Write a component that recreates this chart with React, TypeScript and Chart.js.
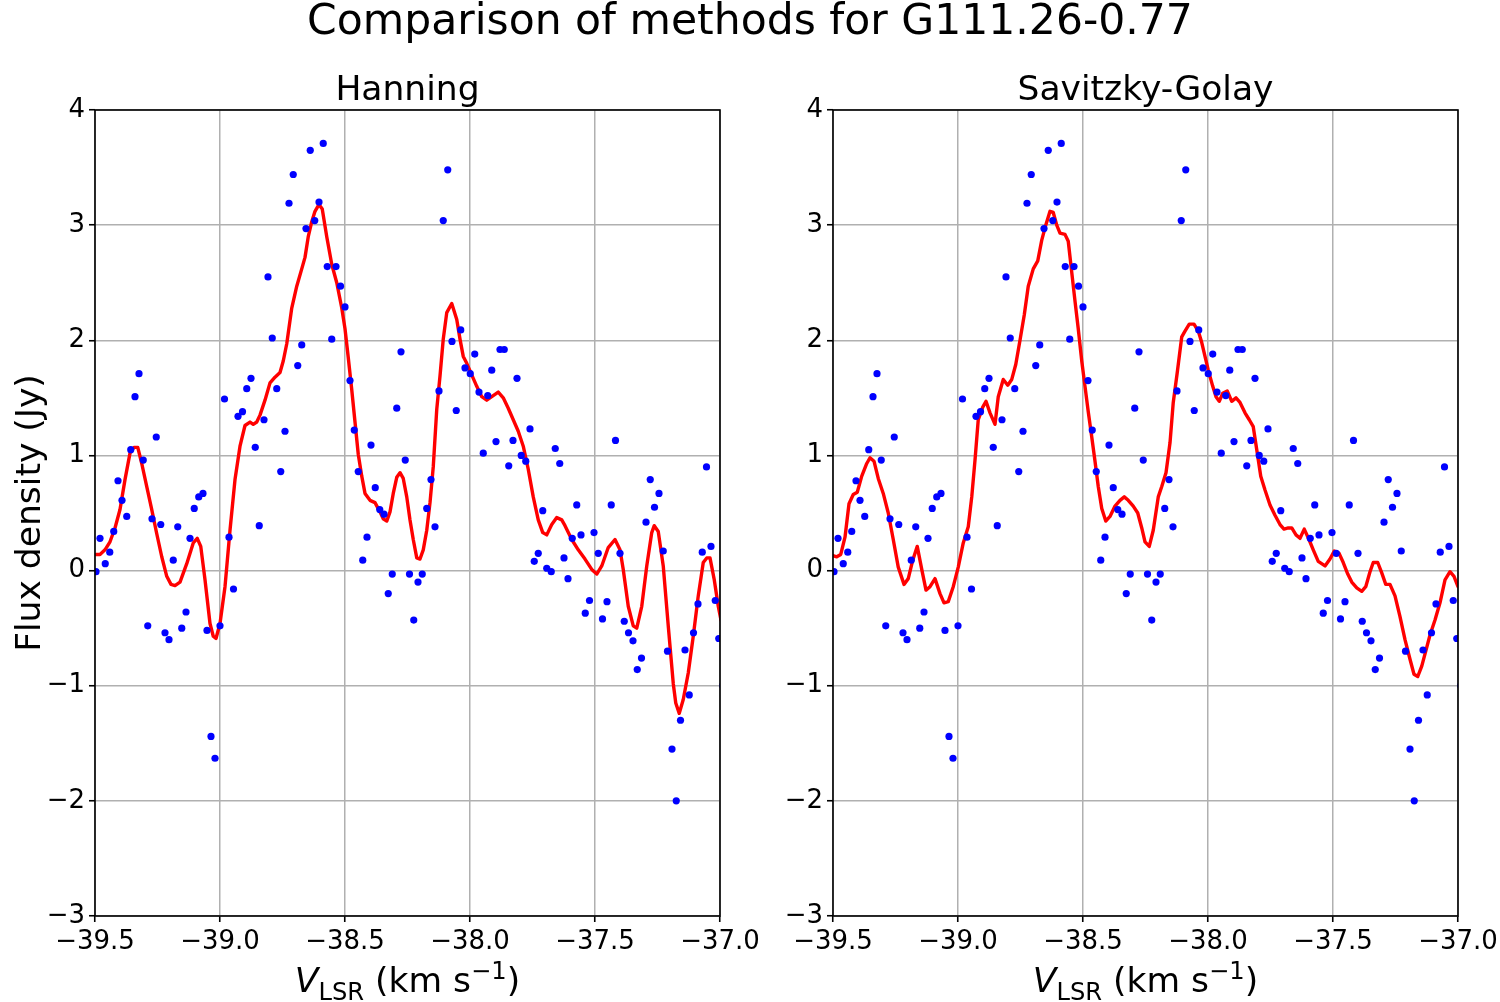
import React, { useEffect, useRef } from "react";
import { Chart, registerables } from "chart.js";

Chart.register(...registerables);

const FONT = '"DejaVu Sans", "Liberation Sans", sans-serif';

// ---- Data ----
const velocity = [
  -39.496, -39.48, -39.459, -39.441, -39.425, -39.408, -39.392, -39.373, -39.357, -39.34,
  -39.324, -39.307, -39.289, -39.272, -39.255, -39.237, -39.22, -39.204, -39.187, -39.169,
  -39.153, -39.136, -39.12, -39.103, -39.085, -39.068, -39.052, -39.036, -39.02, -39.0,
  -38.982, -38.964, -38.946, -38.928, -38.91, -38.893, -38.876, -38.859, -38.843, -38.824,
  -38.808, -38.791, -38.773, -38.757, -38.74, -38.724, -38.707, -38.689, -38.673, -38.656,
  -38.639, -38.621, -38.604, -38.587, -38.571, -38.553, -38.536, -38.518, -38.5, -38.48,
  -38.463, -38.447, -38.429, -38.412, -38.396, -38.379, -38.361, -38.344, -38.327, -38.311,
  -38.293, -38.276, -38.259, -38.242, -38.225, -38.208, -38.191, -38.173, -38.156, -38.14,
  -38.124, -38.107, -38.089, -38.072, -38.055, -38.037, -38.02, -37.999, -37.981, -37.964,
  -37.947, -37.929, -37.913, -37.896, -37.88, -37.863, -37.845, -37.828, -37.812, -37.795,
  -37.777, -37.76, -37.743, -37.727, -37.709, -37.693, -37.675, -37.659, -37.641, -37.624,
  -37.608, -37.591, -37.573, -37.556, -37.539, -37.522, -37.504, -37.487, -37.47, -37.452,
  -37.435, -37.418, -37.4, -37.383, -37.366, -37.348, -37.331, -37.314, -37.296, -37.279,
  -37.262, -37.244, -37.227, -37.21, -37.192, -37.175, -37.158, -37.14, -37.123, -37.106,
  -37.088, -37.071, -37.054, -37.036, -37.019, -37.005, -36.989,
];

const flux = [
  -0.01, 0.28, 0.06, 0.16, 0.34, 0.78, 0.61, 0.47, 1.05, 1.51,
  1.71, 0.96, -0.48, 0.45, 1.16, 0.4, -0.54, -0.6, 0.09, 0.38,
  -0.5, -0.36, 0.28, 0.54, 0.64, 0.67, -0.52, -1.44, -1.63, -0.48,
  1.49, 0.29, -0.16, 1.34, 1.38, 1.58, 1.67, 1.07, 0.39, 1.31,
  2.55, 2.02, 1.58, 0.86, 1.21, 3.19, 3.44, 1.78, 1.96, 2.97,
  3.65, 3.04, 3.2, 3.71, 2.64, 2.01, 2.64, 2.47, 2.29, 1.65,
  1.22, 0.86, 0.09, 0.29, 1.09, 0.72, 0.53, 0.49, -0.2, -0.03,
  1.41, 1.9, 0.96, -0.03, -0.43, -0.1, -0.03, 0.54, 0.79, 0.38,
  1.56, 3.04, 3.48, 1.99, 1.39, 2.09, 1.76, 1.71, 1.88, 1.55,
  1.02, 1.52, 1.74, 1.12, 1.92, 1.92, 0.91, 1.13, 1.67, 1.0,
  0.95, 1.23, 0.08, 0.15, 0.52, 0.02, -0.01, 1.06, 0.93, 0.11,
  -0.07, 0.28, 0.57, 0.31, -0.37, -0.26, 0.33, 0.15, -0.42, -0.27,
  0.57, 1.13, 0.15, -0.44, -0.54, -0.61, -0.86, -0.76, 0.42, 0.79,
  0.55, 0.67, 0.17, -0.7, -1.55, -2.0, -1.3, -0.69, -1.08, -0.54,
  -0.29, 0.16, 0.9, 0.21, -0.26, -0.59, -1.0,
];

const hanningVelocity = [
  -39.496, -39.48, -39.46, -39.44, -39.42, -39.4, -39.38, -39.36, -39.344, -39.329,
  -39.313, -39.293, -39.273, -39.253, -39.233, -39.213, -39.196, -39.18, -39.16, -39.133,
  -39.107, -39.091, -39.077, -39.06, -39.04, -39.027, -39.016, -39.0, -38.98, -38.96,
  -38.94, -38.92, -38.9, -38.88, -38.867, -38.853, -38.84, -38.82, -38.8, -38.78,
  -38.76, -38.747, -38.733, -38.713, -38.693, -38.673, -38.66, -38.647, -38.633, -38.62,
  -38.604, -38.591, -38.573, -38.553, -38.533, -38.513, -38.5, -38.487, -38.473, -38.46,
  -38.447, -38.433, -38.42, -38.4, -38.38, -38.36, -38.347, -38.333, -38.32, -38.307,
  -38.293, -38.28, -38.267, -38.253, -38.24, -38.227, -38.213, -38.2, -38.187, -38.173,
  -38.16, -38.147, -38.133, -38.12, -38.107, -38.093, -38.073, -38.053, -38.04, -38.027,
  -38.013, -37.993, -37.973, -37.953, -37.933, -37.913, -37.887, -37.867, -37.847, -37.827,
  -37.807, -37.787, -37.767, -37.747, -37.727, -37.709, -37.693, -37.673, -37.653, -37.633,
  -37.62, -37.593, -37.567, -37.54, -37.513, -37.493, -37.473, -37.447, -37.42, -37.4,
  -37.387, -37.367, -37.347, -37.333, -37.313, -37.293, -37.273, -37.263, -37.247, -37.227,
  -37.207, -37.187, -37.177, -37.163, -37.147, -37.127, -37.107, -37.087, -37.067, -37.053,
  -37.04, -37.023, -37.007, -36.996,
];

const hanningFlux = [
  0.14, 0.14, 0.18, 0.25, 0.37, 0.53, 0.79, 1.02, 1.07, 1.07,
  0.93, 0.73, 0.53, 0.32, 0.12, -0.05, -0.12, -0.13, -0.1, 0.06,
  0.24, 0.28, 0.21, -0.08, -0.46, -0.57, -0.59, -0.46, -0.14, 0.35,
  0.79, 1.08, 1.26, 1.29, 1.27, 1.29, 1.35, 1.48, 1.63, 1.68,
  1.72, 1.82, 1.97, 2.28, 2.47, 2.62, 2.72, 2.9, 3.03, 3.12,
  3.18, 3.14, 2.9, 2.66, 2.5, 2.28, 2.1, 1.85, 1.57, 1.29,
  1.01, 0.82, 0.67, 0.61, 0.59, 0.51, 0.45, 0.43, 0.51, 0.67,
  0.81, 0.85, 0.8, 0.64, 0.44, 0.27, 0.11, 0.1, 0.18, 0.35,
  0.59, 0.9, 1.4, 1.69, 2.01, 2.24, 2.32, 2.18, 2.01, 1.86,
  1.8, 1.7, 1.6, 1.51, 1.48, 1.51, 1.55, 1.5, 1.41, 1.31,
  1.21, 1.08, 0.88, 0.64, 0.44, 0.33, 0.31, 0.4, 0.46, 0.44,
  0.39, 0.27, 0.18, 0.1, 0.01, -0.03, 0.04, 0.2, 0.27, 0.18,
  0.01, -0.31, -0.48, -0.5, -0.31, 0.04, 0.33, 0.39, 0.34, 0.04,
  -0.48, -0.98, -1.15, -1.24, -1.12, -0.89, -0.57, -0.22, 0.07, 0.11,
  0.11, -0.08, -0.31, -0.43,
];

const sgVelocity = [
  -39.5, -39.485, -39.469, -39.452, -39.436, -39.419, -39.403, -39.385, -39.365, -39.352,
  -39.336, -39.319, -39.299, -39.279, -39.259, -39.239, -39.216, -39.199, -39.181, -39.163,
  -39.145, -39.128, -39.112, -39.092, -39.072, -39.056, -39.039, -39.019, -38.999, -38.979,
  -38.959, -38.945, -38.932, -38.919, -38.901, -38.888, -38.872, -38.852, -38.839, -38.819,
  -38.801, -38.785, -38.769, -38.752, -38.735, -38.719, -38.699, -38.681, -38.665, -38.649,
  -38.632, -38.619, -38.605, -38.592, -38.572, -38.559, -38.545, -38.532, -38.519, -38.505,
  -38.492, -38.479, -38.465, -38.452, -38.439, -38.425, -38.409, -38.392, -38.372, -38.352,
  -38.335, -38.319, -38.299, -38.281, -38.265, -38.252, -38.235, -38.219, -38.199, -38.185,
  -38.168, -38.152, -38.139, -38.123, -38.105, -38.092, -38.075, -38.056, -38.039, -38.025,
  -38.012, -37.999, -37.981, -37.968, -37.955, -37.941, -37.923, -37.905, -37.888, -37.872,
  -37.852, -37.835, -37.819, -37.805, -37.789, -37.772, -37.752, -37.732, -37.712, -37.696,
  -37.679, -37.665, -37.648, -37.632, -37.615, -37.596, -37.579, -37.559, -37.532, -37.512,
  -37.495, -37.476, -37.459, -37.441, -37.425, -37.405, -37.385, -37.369, -37.352, -37.339,
  -37.321, -37.305, -37.289, -37.272, -37.252, -37.232, -37.212, -37.192, -37.176, -37.161,
  -37.145, -37.129, -37.112, -37.092, -37.072, -37.052, -37.032, -37.016, -37.0,
];

const sgFlux = [
  0.13, 0.12, 0.14, 0.29, 0.58, 0.66, 0.68, 0.82, 0.93, 0.98,
  0.95, 0.8, 0.67, 0.5, 0.27, 0.03, -0.12, -0.07, 0.09, 0.21,
  0.01, -0.17, -0.14, -0.07, -0.2, -0.28, -0.27, -0.14, 0.03, 0.24,
  0.38, 0.64, 0.96, 1.31, 1.42, 1.47, 1.37, 1.27, 1.51, 1.66,
  1.61, 1.66, 1.79, 2.0, 2.22, 2.47, 2.62, 2.69, 2.87, 3.0,
  3.12, 3.11, 3.0, 2.93, 2.92, 2.86, 2.59, 2.34, 2.1, 1.82,
  1.6, 1.38, 1.16, 0.95, 0.73, 0.54, 0.43, 0.47, 0.56, 0.61,
  0.64, 0.61, 0.56, 0.5, 0.37, 0.25, 0.21, 0.35, 0.64, 0.73,
  0.85, 1.11, 1.46, 1.72, 2.03, 2.08, 2.14, 2.14, 2.08, 1.98,
  1.86, 1.74, 1.6, 1.51, 1.47, 1.54, 1.56, 1.47, 1.5, 1.46,
  1.37, 1.31, 1.25, 1.05, 0.82, 0.7, 0.57, 0.48, 0.4, 0.36,
  0.37, 0.37, 0.31, 0.28, 0.36, 0.27, 0.18, 0.08, 0.04, 0.1,
  0.17, 0.15, 0.07, -0.03, -0.1, -0.15, -0.18, -0.14, -0.01, 0.07,
  0.07, -0.02, -0.12, -0.12, -0.22, -0.4, -0.6, -0.77, -0.9, -0.92,
  -0.83, -0.7, -0.56, -0.43, -0.28, -0.08, -0.01, -0.05, -0.14,
];

const xTickValues = [-39.5, -39.0, -38.5, -38.0, -37.5, -37.0];
const yTickValues = [-3, -2, -1, 0, 1, 2, 3, 4];

const figureTitle = "Comparison of methods for G111.26-0.77";
const panelTitles = ["Hanning", "Savitzky-Golay"];
const yAxisLabel = "Flux density (Jy)";

const minus = (s: string) => s.replace("-", "\u2212");

function drawXLabel(ctx: CanvasRenderingContext2D, cx: number, baseline: number) {
  const big = 34.5;
  const small = 24.2;
  const parts = [
    { t: "V", font: `italic ${big}px ${FONT}`, dy: 0 },
    { t: "LSR", font: `${small}px ${FONT}`, dy: 8 },
    { t: " (km s", font: `${big}px ${FONT}`, dy: 0 },
    { t: "\u22121", font: `${small}px ${FONT}`, dy: -13 },
    { t: ")", font: `${big}px ${FONT}`, dy: 0 },
  ];
  let total = 0;
  const widths = parts.map((p) => {
    ctx.font = p.font;
    const w = ctx.measureText(p.t).width;
    total += w;
    return w;
  });
  let x = cx - total / 2;
  ctx.textAlign = "left";
  parts.forEach((p, i) => {
    ctx.font = p.font;
    ctx.fillText(p.t, x, baseline + p.dy);
    x += widths[i];
  });
}

function makeDecor(panel: number) {
  return {
    id: "decor" + panel,
    afterDatasetsDraw(chart: any) {
      const { ctx, chartArea: a } = chart;
      ctx.save();
      ctx.strokeStyle = "#000";
      ctx.lineWidth = 1.6;
      ctx.strokeRect(a.left, a.top, a.right - a.left, a.bottom - a.top);
      ctx.restore();
    },
    afterDraw(chart: any) {
      const { ctx, chartArea: a } = chart;
      const cx = (a.left + a.right) / 2;
      ctx.save();
      ctx.fillStyle = "#000";
      ctx.textBaseline = "alphabetic";
      ctx.textAlign = "center";
      ctx.font = `34.5px ${FONT}`;
      ctx.fillText(panelTitles[panel], cx, 100);
      drawXLabel(ctx, cx, 992);
      if (panel === 0) {
        ctx.textAlign = "center";
        ctx.font = `42.5px ${FONT}`;
        ctx.fillText(figureTitle, 750, 34);
        ctx.save();
        ctx.translate(40, (a.top + a.bottom) / 2);
        ctx.rotate(-Math.PI / 2);
        ctx.font = `34.5px ${FONT}`;
        ctx.fillText(yAxisLabel, 0, 0);
        ctx.restore();
      }
      ctx.restore();
    },
  };
}

function makeConfig(panel: number): any {
  const lineV = panel === 0 ? hanningVelocity : sgVelocity;
  const lineF = panel === 0 ? hanningFlux : sgFlux;
  const padLeft = panel === 0 ? 0 : 738;
  const padRight = panel === 0 ? 780 : 42;
  return {
    type: "scatter",
    data: {
      datasets: [
        {
          label: "data",
          data: velocity.map((v, i) => ({ x: v, y: flux[i] })),
          backgroundColor: "#0000ff",
          borderWidth: 0,
          pointRadius: 3.6,
          pointHoverRadius: 3.6,
          clip: 0,
          order: 0,
        },
        {
          label: "smoothed",
          data: lineV.map((v, i) => ({ x: v, y: lineF[i] })),
          showLine: true,
          borderColor: "#ff0000",
          borderWidth: 3.4,
          borderJoinStyle: "round",
          borderCapStyle: "round",
          pointRadius: 0,
          pointHoverRadius: 0,
          tension: 0,
          fill: false,
          clip: 0,
          order: 1,
        },
      ],
    },
    options: {
      responsive: false,
      animation: false,
      devicePixelRatio: 1,
      events: [],
      layout: { padding: { left: padLeft, right: padRight, top: 110, bottom: 0 } },
      plugins: { legend: { display: false }, tooltip: { enabled: false }, title: { display: false } },
      scales: {
        x: {
          type: "linear",
          min: -39.5,
          max: -37.0,
          afterBuildTicks: (s: any) => {
            s.ticks = xTickValues.map((v) => ({ value: v }));
          },
          afterFit: (s: any) => {
            s.height = 86;
            s.paddingLeft = 0;
            s.paddingRight = 0;
          },
          ticks: {
            autoSkip: false,
            maxRotation: 0,
            minRotation: 0,
            padding: 5,
            color: "#000",
            font: { size: 26, family: FONT },
            callback: (v: any) => minus(Number(v).toFixed(1)),
          },
          grid: { color: "#b0b0b0", lineWidth: 1.5, tickColor: "#000", tickLength: 6, tickWidth: 1.6 },
          border: { display: false },
        },
        y: {
          type: "linear",
          min: -3,
          max: 4,
          afterBuildTicks: (s: any) => {
            s.ticks = yTickValues.map((v) => ({ value: v }));
          },
          afterFit: (s: any) => {
            s.width = 95;
            s.paddingTop = 0;
            s.paddingBottom = 0;
          },
          ticks: {
            padding: 4,
            color: "#000",
            font: { size: 26, family: FONT },
            callback: (v: any) => minus(String(Math.round(Number(v)))),
          },
          grid: { color: "#b0b0b0", lineWidth: 1.5, tickColor: "#000", tickLength: 6, tickWidth: 1.6 },
          border: { display: false },
        },
      },
    },
    plugins: [makeDecor(panel)],
  };
}

export default function App() {
  const leftRef = useRef<HTMLCanvasElement | null>(null);
  const rightRef = useRef<HTMLCanvasElement | null>(null);

  useEffect(() => {
    const charts: Chart[] = [];
    if (leftRef.current) charts.push(new Chart(leftRef.current, makeConfig(0)));
    if (rightRef.current) charts.push(new Chart(rightRef.current, makeConfig(1)));
    return () => charts.forEach((c) => c.destroy());
  }, []);

  const canvasStyle: React.CSSProperties = {
    position: "absolute",
    left: 0,
    top: 0,
    width: 1500,
    height: 1002,
  };

  return (
    <div style={{ position: "absolute", left: 0, top: 0, width: 1500, height: 1002, background: "#fff" }}>
      <canvas ref={leftRef} width={1500} height={1002} style={canvasStyle} />
      <canvas ref={rightRef} width={1500} height={1002} style={canvasStyle} />
    </div>
  );
}
